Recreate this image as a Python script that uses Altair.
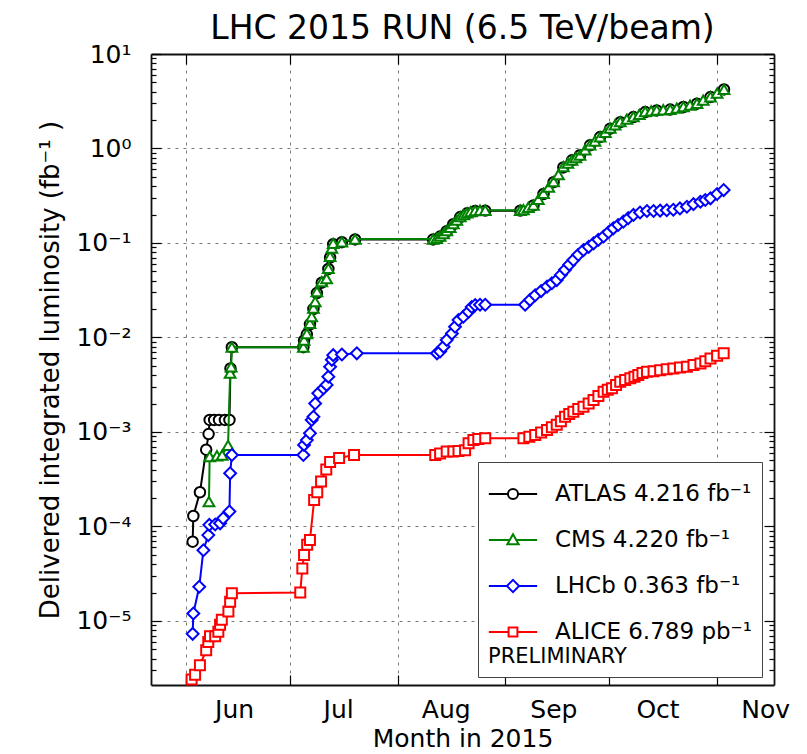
import altair as alt
import pandas as pd

# ---------------- data ----------------
SERIES = ["ATLAS", "CMS", "LHCb", "ALICE"]
LEGEND_LABELS = ["ATLAS 4.216 fb⁻¹", "\u00a0\u00a0CMS 4.220 fb⁻¹",
                 "\u00a0LHCb 0.363 fb⁻¹", "ALICE 6.789 pb⁻¹"]
COLORS = ["#000000", "#008000", "#0000ff", "#ff0000"]
MARKERS = ["circle", "triangle-up", "diamond", "square"]
MARKER_SIZES = [110, 115, 140, 100]

# day of year 2015 (Jun 1 = 152) and delivered integrated luminosity (fb^-1)
ATLAS_DAY = [153.9, 154.1, 156.0, 157.8, 158.5, 158.8, 160.1, 161.5, 163.2, 164.5, 164.8, 165.2,
             185.8, 186.0, 186.8, 187.7, 188.7, 189.7, 191.1, 193.0, 193.5, 194.4, 196.9, 200.7,
             223.2, 225.2, 227.1, 229.0, 231.0, 233.0, 235.3, 238.2,
             248.3, 252.1, 255.0, 257.9, 260.7, 263.2, 265.5, 268.4, 271.3, 274.2, 277.1, 280.9,
             284.3, 287.6, 291.5, 295.3, 299.2, 303.1, 307.0]
ATLAS_LUMI = [6.9e-5, 1.29e-4, 2.3e-4, 6.5e-4, 9.5e-4, 1.34e-3, 1.34e-3, 1.34e-3, 1.34e-3, 1.34e-3, 4.7e-3, 7.9e-3,
              7.9e-3, 9.3e-3, 1.08e-2, 1.38e-2, 2.0e-2, 2.95e-2, 3.8e-2, 5.3e-2, 7.0e-2, 9.7e-2, 1.02e-1, 1.09e-1,
              1.09e-1, 1.17e-1, 1.33e-1, 1.58e-1, 1.88e-1, 2.06e-1, 2.18e-1, 2.2e-1,
              2.2e-1, 2.5e-1, 3.3e-1, 4.4e-1, 6.3e-1, 7.5e-1, 8.5e-1, 1.08, 1.32, 1.62, 1.9, 2.15,
              2.43, 2.53, 2.58, 2.75, 2.98, 3.5, 4.216]

CMS_DAY = [158.6, 158.8, 160.9, 162.4, 164.1, 164.7, 165.0, 165.2,
           185.8, 186.0, 186.8, 187.7, 188.2, 188.7, 189.2, 189.7, 191.1, 192.5, 193.0, 193.5, 194.0, 194.4, 196.9, 200.7,
           223.2, 224.2, 225.2, 226.2, 227.1, 228.1, 229.0, 230.0, 231.0, 232.0, 233.0, 234.0, 235.3, 236.7, 238.2,
           248.3, 249.2, 250.6, 252.1, 253.5, 255.0, 256.5, 257.9, 259.3, 260.7, 262.0, 263.2, 264.3, 265.5, 267.0,
           268.4, 269.8, 271.3, 272.8, 274.2, 275.6, 277.1, 279.0, 280.9, 282.6, 284.3, 286.0, 287.6, 289.5, 291.5,
           293.4, 295.3, 297.2, 299.2, 301.0, 303.1, 305.0, 307.0]
CMS_LUMI = [1.83e-4, 5.5e-4, 5.6e-4, 5.7e-4, 7.2e-4, 4.2e-3, 4.9e-3, 7.9e-3,
            7.9e-3, 9.4e-3, 1.1e-2, 1.41e-2, 1.66e-2, 2.04e-2, 2.4e-2, 3.05e-2, 3.9e-2, 4.2e-2, 5.4e-2, 7.2e-2, 8.8e-2, 9.9e-2, 1.03e-1, 1.1e-1,
            1.1e-1, 1.12e-1, 1.18e-1, 1.26e-1, 1.35e-1, 1.46e-1, 1.6e-1, 1.75e-1, 1.9e-1, 2.0e-1, 2.08e-1, 2.15e-1, 2.2e-1, 2.22e-1, 2.22e-1,
            2.22e-1, 2.25e-1, 2.38e-1, 2.52e-1, 2.9e-1, 3.36e-1, 3.9e-1, 4.46e-1, 5.3e-1, 6.42e-1, 7.0e-1, 7.55e-1, 8.0e-1, 8.53e-1, 9.7e-1,
            1.09, 1.2, 1.33, 1.48, 1.64, 1.78, 1.92, 2.05, 2.17, 2.3, 2.45, 2.5, 2.55, 2.57, 2.6,
            2.68, 2.77, 2.88, 3.0, 3.25, 3.53, 3.85, 4.22]

LHCB_DAY = [153.9, 154.1, 155.8, 157.0, 158.4, 158.7, 160.4, 161.8, 162.7, 164.5, 164.7, 165.2,
            185.8, 186.0, 186.8, 187.7, 188.2, 188.7, 189.2, 190.1, 191.6, 192.5, 193.0, 193.5, 194.0, 194.4, 196.9, 201.2,
            224.3, 225.2, 226.2, 227.1, 228.6, 229.5, 230.5, 231.9, 233.4, 234.3, 235.3, 236.7, 238.2,
            249.7, 251.1, 252.6, 254.3, 256.0, 257.4, 258.8, 260.0, 261.2, 262.4, 263.6, 265.0, 266.5, 268.0, 269.4,
            270.8, 272.3, 273.7, 275.1, 276.5, 278.0, 279.4, 280.9, 282.8, 284.8, 286.7, 288.6, 290.5, 292.4, 294.3,
            296.3, 298.2, 300.2, 301.6, 303.1, 305.0, 306.9]
LHCB_LUMI = [7.3e-6, 1.2e-5, 2.3e-5, 5.6e-5, 8.1e-5, 1.04e-4, 1.05e-4, 1.08e-4, 1.22e-4, 1.44e-4, 3.65e-4, 5.7e-4,
             5.7e-4, 7.3e-4, 8.2e-4, 9.7e-4, 1.34e-3, 1.45e-3, 2.0e-3, 2.57e-3, 2.9e-3, 3.15e-3, 3.85e-3, 4.9e-3, 5.8e-3, 6.5e-3, 6.6e-3, 6.8e-3,
             6.8e-3, 7.1e-3, 8.0e-3, 9.4e-3, 1.1e-2, 1.3e-2, 1.53e-2, 1.66e-2, 1.87e-2, 2.1e-2, 2.2e-2, 2.22e-2, 2.22e-2,
             2.22e-2, 2.5e-2, 2.8e-2, 3.1e-2, 3.45e-2, 3.75e-2, 4.05e-2, 4.6e-2, 5.2e-2, 5.9e-2, 6.6e-2, 7.5e-2, 8.4e-2, 9.1e-2, 9.9e-2,
             1.08e-1, 1.17e-1, 1.3e-1, 1.43e-1, 1.55e-1, 1.68e-1, 1.83e-1, 1.98e-1, 2.1e-1, 2.18e-1, 2.18e-1, 2.2e-1, 2.22e-1, 2.25e-1, 2.32e-1,
             2.42e-1, 2.58e-1, 2.73e-1, 2.85e-1, 2.97e-1, 3.3e-1, 3.63e-1]

ALICE_DAY = [153.6, 154.6, 156.0, 157.8, 158.4, 158.9, 160.4, 161.3, 161.8, 162.3, 164.2, 164.7, 165.2,
             184.9, 185.5, 186.0, 186.9, 187.7, 188.9, 189.8, 190.9, 192.4, 193.5, 196.1, 200.4,
             223.8, 225.2, 227.1, 229.0, 230.5, 232.4, 233.4, 234.8, 236.2, 238.2,
             249.2, 250.9, 252.6, 254.3, 256.0, 257.4, 258.8, 260.0, 261.2, 262.4, 263.6, 265.0, 266.5, 268.0, 269.4,
             270.8, 272.3, 273.5, 274.7, 275.9, 277.1, 278.5, 280.0, 281.2, 282.3, 283.5, 284.8, 286.7, 288.6, 290.5,
             292.4, 294.3, 296.3, 298.2, 300.2, 301.6, 303.1, 305.0, 306.9]
ALICE_LUMI = [2.4e-6, 2.7e-6, 3.4e-6, 4.9e-6, 6.0e-6, 6.9e-6, 6.9e-6, 7.7e-6, 9.1e-6, 1.03e-5, 1.26e-5, 1.6e-5, 1.96e-5,
              2.0e-5, 3.6e-5, 5.0e-5, 6.4e-5, 7.2e-5, 1.9e-4, 2.3e-4, 3.0e-4, 4.0e-4, 4.8e-4, 5.3e-4, 5.7e-4,
              5.7e-4, 5.9e-4, 6.2e-4, 6.2e-4, 6.3e-4, 6.4e-4, 7.6e-4, 8.2e-4, 8.4e-4, 8.6e-4,
              8.6e-4, 8.9e-4, 9.3e-4, 9.9e-4, 1.05e-3, 1.12e-3, 1.19e-3, 1.3e-3, 1.45e-3, 1.55e-3, 1.64e-3, 1.75e-3, 1.85e-3, 2.0e-3, 2.18e-3,
              2.4e-3, 2.67e-3, 2.8e-3, 2.9e-3, 3.15e-3, 3.4e-3, 3.55e-3, 3.7e-3, 3.85e-3, 4.0e-3, 4.2e-3, 4.35e-3, 4.4e-3, 4.5e-3, 4.6e-3,
              4.7e-3, 4.8e-3, 4.9e-3, 5.1e-3, 5.3e-3, 5.6e-3, 6.0e-3, 6.4e-3, 6.79e-3]

MONTH_DAYS = [152, 182, 213, 244, 274, 305]
MONTH_LABELS = ["Jun", "Jul", "Aug", "Sep", "Oct", "Nov"]
Y_DECADES = [1e-5, 1e-4, 1e-3, 1e-2, 1e-1, 1, 10]
Y_LABELS = ["10⁻⁵", "10⁻⁴", "10⁻³", "10⁻²", "10⁻¹", "10⁰", "10¹"]

X_DOMAIN = [141.9, 321.4]
Y_DOMAIN = [2.1e-6, 10]

# ---------------- table ----------------
rows = []
for s, lab, days, vals in zip(SERIES, LEGEND_LABELS,
                              [ATLAS_DAY, CMS_DAY, LHCB_DAY, ALICE_DAY],
                              [ATLAS_LUMI, CMS_LUMI, LHCB_LUMI, ALICE_LUMI]):
    assert len(days) == len(vals), s
    for i, (d, v) in enumerate(zip(days, vals)):
        rows.append({"series": s, "label": lab, "day": d, "lumi": v, "idx": i})
df = pd.DataFrame(rows)

W, H = 623, 631
FONT = "DejaVu Sans"

XS = alt.Scale(domain=X_DOMAIN, nice=False, zero=False)
YS = alt.Scale(type="log", domain=Y_DOMAIN, nice=False)

y_minor = []
for e in range(-6, 1):
    for k in range(1, 10):
        v = float(f"{k}e{e}")
        if Y_DOMAIN[0] <= v <= Y_DOMAIN[1]:
            y_minor.append(v)
y_minor.append(10.0)

decade_test = "abs(log(datum.value)/LN10 - round(log(datum.value)/LN10)) < 0.001"
y_tick_size = {"condition": {"test": decade_test, "value": 10}, "value": 5}

x_label_expr = ("[" + ",".join(f"'{m}'" for m in MONTH_LABELS) + "][indexof(["
                + ",".join(str(d) for d in MONTH_DAYS) + "], datum.value)]")
y_label_expr = ("[" + ",".join(f"'{t}'" for t in Y_LABELS) + "][round(log(datum.value)/LN10)+5]")

GRID = dict(grid=True, gridColor="#7a7a7a", gridDash=[3, 5], gridWidth=1)

ax_x_main = alt.Axis(orient="bottom", values=MONTH_DAYS, labelExpr=x_label_expr, labelOffset=48,
                     labelFlush=False, ticks=False, tickSize=0, domain=False, labelFontSize=25,
                     labelFont=FONT, labelColor="black", labelPadding=12, title="Month in 2015",
                     titleFontSize=25, titleFont=FONT, titleFontWeight="normal", titleColor="black",
                     titlePadding=4, **GRID)
ax_y_main = alt.Axis(orient="left", values=Y_DECADES, labelExpr=y_label_expr, ticks=False, tickSize=0,
                     domain=False, labelFontSize=25, labelFont=FONT, labelColor="black", labelPadding=20,
                     title="Delivered integrated luminosity (fb⁻¹ )", titleFontSize=26, titleFont=FONT,
                     titleFontWeight="normal", titleColor="black", titlePadding=12, **GRID)
TICKS = dict(labels=False, grid=False, ticks=True, tickColor="black", tickWidth=1.2, title="",
             domain=True, domainColor="#111111", domainWidth=1.8)
ax_x_bottom_in = alt.Axis(orient="top", offset=-H, values=MONTH_DAYS, tickSize=10, **TICKS)
ax_x_top_in = alt.Axis(orient="bottom", offset=-H, values=MONTH_DAYS, tickSize=10, **TICKS)
ax_y_left_in = alt.Axis(orient="right", offset=-W, values=y_minor, tickSize=y_tick_size, **TICKS)
ax_y_right_in = alt.Axis(orient="left", offset=-W, values=y_minor, tickSize=y_tick_size, **TICKS)

AXES = [(ax_x_main, ax_y_main), (ax_x_bottom_in, ax_y_left_in), (ax_x_top_in, ax_y_right_in)]

base = alt.Chart(df)
layers = []
k = 0
for i, s in enumerate(SERIES):
    for kind in ("line", "point"):
        if k < len(AXES):
            axx, axy = AXES[k]
            xenc = alt.X("day:Q", scale=XS, axis=axx)
            yenc = alt.Y("lumi:Q", scale=YS, axis=axy)
        else:
            xenc = alt.X("day:Q", scale=XS, axis=None)
            yenc = alt.Y("lumi:Q", scale=YS, axis=None)
        k += 1
        if kind == "line":
            mk = base.mark_line(color=COLORS[i], strokeWidth=2)
        else:
            mk = base.mark_point(shape=MARKERS[i], filled=False, fill="white", stroke=COLORS[i],
                                 strokeWidth=2, size=MARKER_SIZES[i], opacity=1)
        layers.append(mk.encode(x=xenc, y=yenc, order=alt.Order("idx:Q"))
                      .transform_filter(alt.datum.series == s))

# legend: custom symbols = line with marker
def sym(marker):
    if marker == "circle":
        r = 0.24
        return (f"M-1.15,0H-{r}M{r},0H1.15M-{r},0A{r},{r},0,1,1,{r},0A{r},{r},0,1,1,-{r},0Z")
    if marker == "triangle-up":
        return "M-1.15,0H-0.15M0.15,0H1.15M0,-0.27L0.27,0.2L-0.27,0.2Z"
    if marker == "diamond":
        return "M-1.15,0H-0.29M0.29,0H1.15M0,-0.29L0.29,0L0,0.29L-0.29,0Z"
    return "M-1.15,0H-0.21M0.21,0H1.15M-0.21,-0.21H0.21V0.21H-0.21Z"

LEG = dict(title="PRELIMINARY", titleOrient="bottom", titleAnchor="start", titleFontSize=21,
           titleFont=FONT, titleFontWeight="normal", titleColor="black", titlePadding=2,
           orient="none", legendX=327, legendY=408, fillColor="white", strokeColor="#444444",
           padding=10, symbolSize=1764, symbolStrokeWidth=2, symbolFillColor="white",
           symbolOffset=3, labelFontSize=23, labelFont=FONT, labelColor="black", labelOffset=20,
           labelLimit=400, rowPadding=12)
legend_layer = base.mark_point(filled=False, strokeWidth=2, opacity=1).encode(
    x=alt.X("day:Q", scale=XS, axis=None),
    y=alt.Y("lumi:Q", scale=YS, axis=None),
    color=alt.Color("label:N", scale=alt.Scale(domain=LEGEND_LABELS, range=COLORS), legend=alt.Legend(**LEG)),
    shape=alt.Shape("label:N", scale=alt.Scale(domain=LEGEND_LABELS, range=[sym(m) for m in MARKERS]),
                    legend=alt.Legend(**LEG)),
).transform_filter("datum.day < 0")
layers.append(legend_layer)

chart = alt.layer(*layers).resolve_axis(x="independent", y="independent").properties(
    width=W, height=H,
    autosize=alt.AutoSizeParams(type="none"),
    padding={"left": 151, "top": 54, "right": 33, "bottom": 69},
    title=alt.Title("LHC 2015 RUN (6.5 TeV/beam)", fontSize=33, font=FONT, fontWeight="normal",
                    color="black", anchor="middle", frame="group", offset=1, dy=5),
).configure(font=FONT).configure_view(strokeWidth=0)

chart.save("out.html", embed_options={"renderer": "svg", "actions": False})
